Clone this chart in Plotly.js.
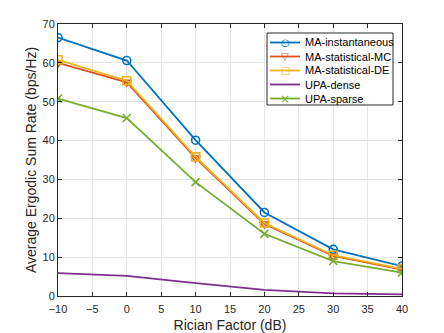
<!DOCTYPE html>
<html>
<head>
<meta charset="utf-8">
<script src="https://cdn.plot.ly/plotly-3.0.1.min.js"></script>
<style>body{margin:0;background:#fff}#chart{width:444px;height:333px}</style>
</head>
<body>
<div id="chart"></div>
<script>
// Rician factor sweep
var ricianDb = [-10, 0, 10, 20, 30, 40];
var maInstantaneous = [66.5, 60.6, 40.1, 21.5, 12.0, 7.7];
var maStatMC = [60.0, 55.0, 35.5, 18.5, 10.3, 6.8];
var maStatDE = [60.8, 55.4, 35.8, 18.8, 10.5, 7.0];
var upaDense = [5.9, 5.2, 3.3, 1.6, 0.7, 0.4];
var upaSparse = [50.8, 45.8, 29.3, 16.0, 9.0, 6.0];

var seriesNames = ['MA-instantaneous', 'MA-statistical-MC', 'MA-statistical-DE', 'UPA-dense', 'UPA-sparse'];
var seriesColors = ['#0072BD', '#D95319', '#EDB120', '#7E2F8E', '#77AC30'];
var seriesSymbols = ['circle-open', 'triangle-down-open', 'square-open', null, 'x-thin-open'];
var legendGlyphs = ['\u25CB', '\u25BD', '\u25A1', '', '\u00D7'];
var seriesValues = [maInstantaneous, maStatMC, maStatDE, upaDense, upaSparse];

var data = [];
for (var i = 0; i < seriesNames.length; i++) {
    var t = {
        x: ricianDb,
        y: seriesValues[i],
        name: seriesNames[i],
        mode: seriesSymbols[i] ? 'lines+markers' : 'lines',
        line: {color: seriesColors[i], width: 1.8}
    };
    if (seriesSymbols[i]) {
        t.marker = {symbol: seriesSymbols[i], size: 8, color: seriesColors[i],
                    line: {color: seriesColors[i], width: 1.6}};
    }
    data.push(t);
}

// plot area in pixels, used to place the hand-made legend
var plotL = 58, plotR = 402, plotT = 24, plotB = 296;
function px(x) { return (x - plotL) / (plotR - plotL); }
function py(y) { return (plotB - y) / (plotB - plotT); }

var shapes = [{
    type: 'rect', xref: 'paper', yref: 'paper',
    x0: px(267), x1: px(393), y0: py(105), y1: py(33),
    fillcolor: '#ffffff', line: {color: '#262626', width: 1}
}];
var annotations = [];
for (var k = 0; k < seriesNames.length; k++) {
    var rowY = 42.5 + k * 14;
    shapes.push({
        type: 'line', xref: 'paper', yref: 'paper',
        x0: px(270), x1: px(300), y0: py(rowY), y1: py(rowY),
        line: {color: seriesColors[k], width: 1.8}
    });
    if (legendGlyphs[k]) {
        annotations.push({
            xref: 'paper', yref: 'paper', x: px(285), y: py(rowY),
            text: legendGlyphs[k], showarrow: false, xanchor: 'center', yanchor: 'middle',
            font: {size: k === 4 ? 12 : 10, color: seriesColors[k], family: 'DejaVu Sans'}
        });
    }
    annotations.push({
        xref: 'paper', yref: 'paper', x: px(303), y: py(rowY),
        text: seriesNames[k], showarrow: false, xanchor: 'left', yanchor: 'middle',
        font: {size: 11, color: '#000000'}
    });
}

var layout = {
    width: 444,
    height: 333,
    paper_bgcolor: '#ffffff',
    plot_bgcolor: '#ffffff',
    font: {family: 'Liberation Sans, Arial, sans-serif', size: 11, color: '#262626'},
    margin: {l: plotL, r: 444 - plotR, t: plotT, b: 333 - plotB},
    showlegend: false,
    shapes: shapes,
    annotations: annotations,
    xaxis: {
        title: {text: 'Rician Factor (dB)', font: {size: 14}, standoff: 5},
        range: [-10, 40],
        tickvals: [-10, -5, 0, 5, 10, 15, 20, 25, 30, 35, 40],
        ticklabelstandoff: 3,
        ticks: 'inside', ticklen: 4, tickcolor: '#262626',
        showline: true, linecolor: '#262626', linewidth: 1, mirror: 'ticks',
        showgrid: true, gridcolor: '#e6e6e6', zeroline: false
    },
    yaxis: {
        title: {text: 'Average Ergodic Sum Rate (bps/Hz)', font: {size: 14}, standoff: 2},
        range: [0, 70],
        dtick: 10,
        ticks: 'inside', ticklen: 4, tickcolor: '#262626',
        showline: true, linecolor: '#262626', linewidth: 1, mirror: 'ticks',
        showgrid: true, gridcolor: '#e6e6e6', zeroline: false
    }
};

Plotly.newPlot('chart', data, layout, {displayModeBar: false, staticPlot: true});
</script>
</body>
</html>
